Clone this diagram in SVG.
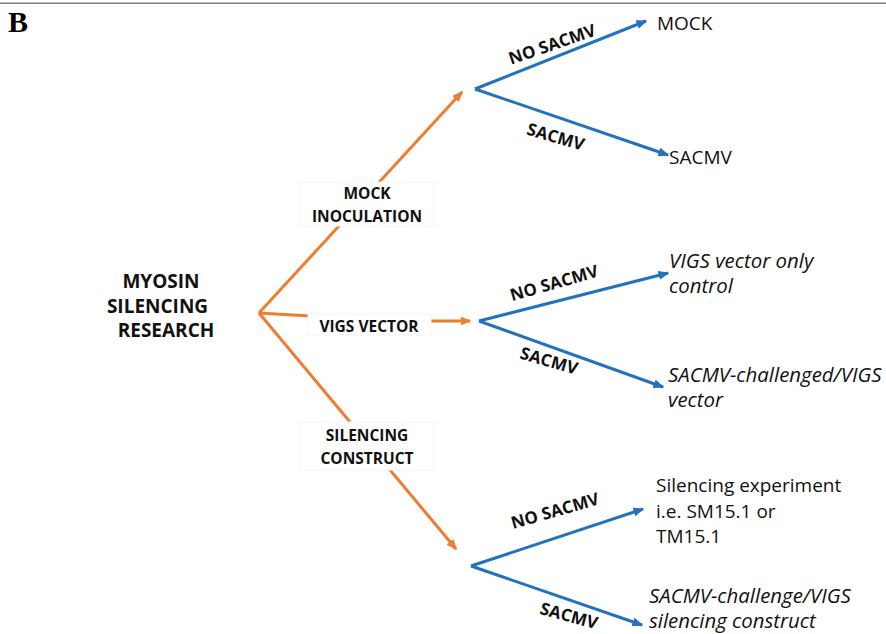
<svg xmlns="http://www.w3.org/2000/svg" width="886" height="634" viewBox="0 0 886 634">
<defs>
<marker id="ao" viewBox="0 0 11 9" refX="9.5" refY="4.5" markerWidth="11" markerHeight="9" markerUnits="userSpaceOnUse" orient="auto"><path d="M0,0 L11,4.5 L0,9 z" fill="#ED7D31"/></marker>
<marker id="ab" viewBox="0 0 11 9" refX="9.5" refY="4.5" markerWidth="11" markerHeight="9" markerUnits="userSpaceOnUse" orient="auto"><path d="M0,0 L11,4.5 L0,9 z" fill="#2272BE"/></marker>
<style>
.o{stroke:#ED7D31;stroke-width:3;fill:none;marker-end:url(#ao)}
.ol{stroke:#ED7D31;stroke-width:3;fill:none}
.b{stroke:#2272BE;stroke-width:3;fill:none;marker-end:url(#ab)}
.box{fill:#fff;stroke:#f4f4f4;stroke-width:1}
.bt{font-family:"Open Sans","Liberation Sans",sans-serif;font-weight:700;font-size:15.5px;fill:#111;text-anchor:middle}
.root{font-family:"Open Sans","Liberation Sans",sans-serif;font-weight:700;font-size:19px;fill:#111;text-anchor:middle}
.lab{font-family:"Open Sans","Liberation Sans",sans-serif;font-weight:700;font-size:17px;fill:#111;text-anchor:middle}
.r{font-family:"Open Sans","Liberation Sans",sans-serif;font-size:19px;fill:#111}
.i{font-family:"Open Sans","Liberation Sans",sans-serif;font-size:20.4px;font-style:italic;fill:#111}
</style>
</defs>
<line x1="0" y1="3.3" x2="886" y2="3.3" stroke="#808080" stroke-width="1.6"/>
<text x="8" y="32" font-family="Liberation Serif,serif" font-weight="700" font-size="30" fill="#000">B</text>

<g id="connectors">
<line class="o" x1="259" y1="313" x2="462" y2="92"/>
<line class="ol" x1="259" y1="313" x2="310" y2="316"/>
<line class="o" x1="431" y1="321" x2="470" y2="321"/>
<line class="o" x1="259" y1="313" x2="456" y2="549"/>
<line class="b" x1="475" y1="89" x2="646" y2="21"/>
<line class="b" x1="475" y1="89" x2="668" y2="155"/>
<line class="b" x1="479" y1="321" x2="668" y2="273"/>
<line class="b" x1="479" y1="321" x2="663" y2="387"/>
<line class="b" x1="471" y1="566" x2="643" y2="509"/>
<line class="b" x1="471" y1="566" x2="642" y2="625"/>
<text class="lab" transform="translate(554,50) rotate(-19)">NO SACMV</text>
<text class="lab" transform="translate(554,142.5) rotate(16)">SACMV</text>
<text class="lab" transform="translate(555.7,288.8) rotate(-16)">NO SACMV</text>
<text class="lab" transform="translate(547.4,366.5) rotate(16)">SACMV</text>
<text class="lab" transform="translate(556.6,516.5) rotate(-16)">NO SACMV</text>
<text class="lab" transform="translate(567.5,621.5) rotate(15)">SACMV</text>
</g>

<g id="root">
<text class="root" x="161" y="288">MYOSIN</text>
<text class="root" x="157.5" y="313">SILENCING</text>
<text class="root" x="166" y="337">RESEARCH</text>
</g>

<g id="mock-inoculation">
<rect class="box" x="300" y="182" width="134" height="44"/>
<text class="bt" x="367" y="199">MOCK</text>
<text class="bt" x="367" y="222">INOCULATION</text>
</g>
<g id="vigs-vector">
<rect class="box" x="308" y="314" width="123" height="21"/>
<text class="bt" x="369" y="332">VIGS VECTOR</text>
</g>
<g id="silencing-construct">
<rect class="box" x="300" y="422" width="134" height="48"/>
<text class="bt" x="367" y="441">SILENCING</text>
<text class="bt" x="367" y="464">CONSTRUCT</text>
</g>

<g id="mock"><text class="r" x="657" y="30">MOCK</text></g>
<g id="sacmv"><text class="r" x="669" y="164">SACMV</text></g>
<g id="vigs-only"><text class="i" x="669" y="268">VIGS vector only</text><text class="i" x="669" y="293">control</text></g>
<g id="sacmv-vigs"><text class="i" x="668" y="382">SACMV-challenged/VIGS</text><text class="i" x="668" y="407">vector</text></g>
<g id="silencing-exp"><text class="r" x="656" y="492">Silencing experiment</text><text class="r" x="656" y="518">i.e. SM15.1 or</text><text class="r" x="656" y="543">TM15.1</text></g>
<g id="sacmv-silencing"><text class="i" x="649" y="603">SACMV-challenge/VIGS</text><text class="i" x="649" y="628">silencing construct</text></g>
</svg>
